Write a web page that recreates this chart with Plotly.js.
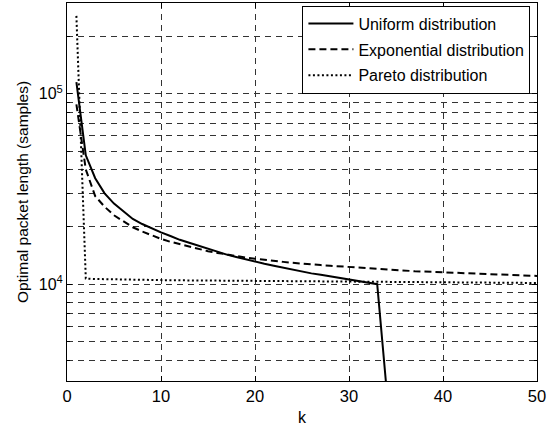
<!DOCTYPE html>
<html>
<head>
<meta charset="utf-8">
<script src="https://cdn.plot.ly/plotly-3.0.1.min.js"></script>
<style>html,body{margin:0;padding:0;background:#fff;}#chart{width:555px;height:428px;}</style>
</head>
<body>
<div id="chart"></div>
<script>
// k values
const kUniform = [1,2,3,4,5,6,7,8,9,10,11,12,13,14,15,16,17,18,19,20,21,22,23,24,25,26,27,28,29,30,31,32,33,34];
const uniformLen = [115000,47500,36000,30000,26500,24000,22000,20700,19600,18700,17900,17100,16500,15900,15300,14800,14300,13900,13500,13100,12800,12500,12200,11900,11600,11400,11200,11000,10800,10600,10400,10200,10000,2800];

const kAll = [1,2,3,4,5,6,7,8,9,10,11,12,13,14,15,16,17,18,19,20,21,22,23,24,25,26,27,28,29,30,31,32,33,34,35,36,37,38,39,40,41,42,43,44,45,46,47,48,49,50];
const exponentialLen = [88000,40000,29000,25500,23000,21300,19900,18900,18000,17300,16700,16200,15700,15300,14900,14600,14300,14000,13800,13600,13400,13250,13100,12950,12800,12700,12600,12500,12400,12300,12200,12100,12000,11950,11850,11800,11700,11650,11600,11500,11450,11400,11350,11300,11250,11200,11150,11100,11100,11050];
const paretoLen = [256000,10700,10650,10620,10600,10580,10560,10540,10520,10500,10490,10480,10470,10460,10450,10440,10430,10420,10410,10400,10390,10380,10370,10360,10350,10340,10330,10320,10310,10300,10300,10290,10280,10270,10260,10250,10250,10240,10230,10220,10220,10210,10200,10200,10190,10180,10180,10170,10160,10150];

const seriesNames = ['Uniform distribution','Exponential distribution','Pareto distribution'];
const xTicks = [0,10,20,30,40,50];
const yMajorTicks = [1e4,1e5];
const yMajorText = ['10<sup>4</sup>','10<sup>5</sup>'];
const yMinorTicks = [4e3,5e3,6e3,7e3,8e3,9e3,2e4,3e4,4e4,5e4,6e4,7e4,8e4,9e4,2e5];

const font = 'Liberation Sans, Arial, Helvetica, sans-serif';

const traces = [
  {x:kUniform, y:uniformLen, name:seriesNames[0], legendgroup:'u', mode:'lines', line:{color:'#000', width:2, dash:'solid'}},
  {x:kAll, y:exponentialLen, name:seriesNames[1], legendgroup:'e', mode:'lines', line:{color:'#000', width:2, dash:'7px,4px'}},
  {x:kAll, y:paretoLen, name:seriesNames[2], legendgroup:'p', mode:'lines', line:{color:'#000', width:2, dash:'2px,2.5px'}}
];

const gridStyle = {gridcolor:'#333', griddash:'6px,5px', gridwidth:1};

const layout = {
  width:555, height:428,
  margin:{l:67, r:18, t:3, b:47},
  paper_bgcolor:'#fff', plot_bgcolor:'#fff',
  font:{family:font, size:15, color:'#000'},
  showlegend:true,
  legend:{x:0.986, y:0.993, xanchor:'right', yanchor:'top', bgcolor:'#fff', bordercolor:'#000', borderwidth:1, font:{family:font, size:16, color:'#000'}, tracegroupgap:2, itemwidth:45},
  xaxis:Object.assign({
    range:[0,50], tickmode:'array', tickvals:xTicks, ticks:'inside', ticklen:5, tickcolor:'#000',
    showline:true, linecolor:'#000', linewidth:1, mirror:'ticks', showgrid:true, zeroline:false,
    tickfont:{family:font, size:16.5, color:'#000'},
    title:{text:'k', font:{family:font, size:16, color:'#000'}, standoff:8}
  }, gridStyle),
  yaxis:Object.assign({
    type:'log', range:[3.492,5.476], tickmode:'array', tickvals:yMajorTicks, ticktext:yMajorText,
    ticks:'inside', ticklen:5, tickcolor:'#000',
    showline:true, linecolor:'#000', linewidth:1, mirror:'ticks', showgrid:true, zeroline:false,
    tickfont:{family:font, size:16, color:'#000'},
    title:{text:'Optimal packet length (samples)', font:{family:font, size:15.5, color:'#000'}, standoff:6},
    minor:{tickmode:'array', tickvals:yMinorTicks, ticks:'inside', ticklen:3, tickcolor:'#000', showgrid:true, gridcolor:'#333', griddash:'6px,5px', gridwidth:1}
  }, gridStyle)
};

Plotly.newPlot('chart', traces, layout, {displayModeBar:false, staticPlot:true});
</script>
</body>
</html>
